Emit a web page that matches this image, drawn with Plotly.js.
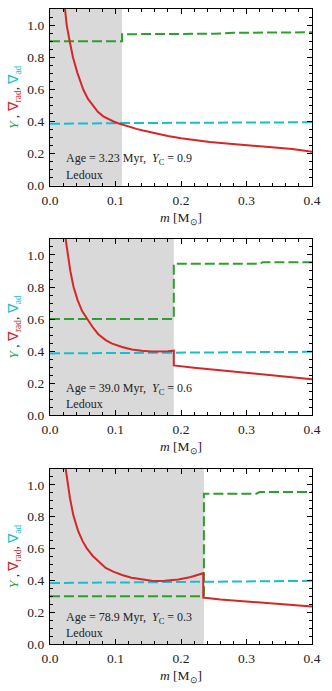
<!DOCTYPE html>
<html><head><meta charset="utf-8">
<script src="https://cdn.plot.ly/plotly-3.0.1.min.js"></script>
<style>html,body{margin:0;padding:0;background:#fff}</style>
</head><body><div id="chart" style="width:332px;height:691px"></div>
<script>
// Panel labels
const ages = ['3.23', '39.0', '78.9'];
const yCore = ['0.9', '0.6', '0.3'];
const convBoundary = [0.11, 0.189, 0.235];

// Panel 1 (Yc = 0.9)
const mRad1 = [0.0229, 0.0255, 0.0295, 0.035, 0.0417, 0.0508, 0.058, 0.066, 0.073, 0.0813, 0.09, 0.097, 0.104, 0.112, 0.122, 0.132, 0.142, 0.16, 0.18, 0.2, 0.22, 0.244, 0.27, 0.295, 0.32, 0.346, 0.37, 0.4];
const rad1 = [1.1, 1.0, 0.912, 0.80, 0.704, 0.599, 0.54, 0.495, 0.46, 0.432, 0.413, 0.40, 0.389, 0.378, 0.366, 0.354, 0.344, 0.326, 0.31, 0.296, 0.284, 0.272, 0.263, 0.255, 0.247, 0.238, 0.229, 0.211];
const mY1 = [0, 0.11, 0.11, 0.25, 0.28, 0.4];
const Y1 = [0.9, 0.9, 0.943, 0.946, 0.952, 0.955];
const mAd1 = [0, 0.11, 0.4];
const ad1 = [0.385, 0.39, 0.395];

// Panel 2 (Yc = 0.6)
const mRad2 = [0.0239, 0.027, 0.031, 0.036, 0.042, 0.049, 0.056, 0.065, 0.0737, 0.085, 0.094, 0.11, 0.125, 0.14, 0.155, 0.17, 0.18, 0.189, 0.189, 0.22, 0.25, 0.285, 0.32, 0.36, 0.4];
const rad2 = [1.1, 1.0, 0.9, 0.8, 0.72, 0.65, 0.605, 0.55, 0.505, 0.468, 0.448, 0.425, 0.41, 0.401, 0.397, 0.397, 0.399, 0.402, 0.31, 0.295, 0.283, 0.266, 0.252, 0.238, 0.224];
const mY2 = [0, 0.189, 0.189, 0.32, 0.325, 0.4];
const Y2 = [0.6, 0.6, 0.945, 0.945, 0.955, 0.955];
const mAd2 = [0, 0.19, 0.4];
const ad2 = [0.385, 0.39, 0.395];

// Panel 3 (Yc = 0.3)
const mRad3 = [0.024, 0.027, 0.0305, 0.0356, 0.0432, 0.05, 0.056, 0.065, 0.0737, 0.085, 0.0966, 0.11, 0.1245, 0.14, 0.155, 0.165, 0.175, 0.196, 0.215, 0.234, 0.234, 0.26, 0.3, 0.35, 0.4];
const rad3 = [1.1, 1.0, 0.916, 0.81, 0.707, 0.645, 0.603, 0.555, 0.519, 0.478, 0.455, 0.434, 0.417, 0.405, 0.398, 0.396, 0.397, 0.405, 0.421, 0.445, 0.292, 0.28, 0.267, 0.252, 0.236];
const mY3 = [0, 0.235, 0.235, 0.315, 0.32, 0.4];
const Y3 = [0.3, 0.3, 0.945, 0.945, 0.955, 0.955];
const mAd3 = [0, 0.235, 0.4];
const ad3 = [0.383, 0.39, 0.397];

const GREEN = '#2ca02c', RED = '#d62728', CYAN = '#17becf';
const FONT = 'Liberation Serif';

const panels = [
  {mRad: mRad1, rad: rad1, mY: mY1, Y: Y1, mAd: mAd1, ad: ad1},
  {mRad: mRad2, rad: rad2, mY: mY2, Y: Y2, mAd: mAd2, ad: ad2},
  {mRad: mRad3, rad: rad3, mY: mY3, Y: Y3, mAd: mAd3, ad: ad3}
];

const traces = [];
panels.forEach((p, i) => {
  const xa = i === 0 ? 'x' : 'x' + (i + 1);
  const ya = i === 0 ? 'y' : 'y' + (i + 1);
  traces.push({x: p.mY, y: p.Y, xaxis: xa, yaxis: ya, mode: 'lines', line: {color: GREEN, width: 2, dash: '10px,4px'}, hoverinfo: 'skip'});
  traces.push({x: p.mAd, y: p.ad, xaxis: xa, yaxis: ya, mode: 'lines', line: {color: CYAN, width: 2, dash: '10px,4px'}, hoverinfo: 'skip'});
  traces.push({x: p.mRad, y: p.rad, xaxis: xa, yaxis: ya, mode: 'lines', line: {color: RED, width: 2}, hoverinfo: 'skip'});
});

const domains = [[0.7217, 1], [0.3606, 0.6378], [0, 0.2756]];
const ytitle = '<span style="color:' + GREEN + '"><i>Y</i></span> , <span style="color:' + RED + '">∇<sub>rad</sub></span>, <span style="color:' + CYAN + '">∇<sub>ad</sub></span>';

const layout = {
  width: 332, height: 691,
  margin: {l: 50, r: 20, t: 9, b: 47},
  paper_bgcolor: '#fff', plot_bgcolor: '#fff',
  showlegend: false,
  font: {family: FONT, size: 13, color: '#222'},
  shapes: [], annotations: []
};

for (let i = 0; i < 3; i++) {
  const sx = i === 0 ? '' : String(i + 1);
  const common = {
    showline: true, linecolor: '#000', linewidth: 1.2, mirror: 'allticks',
    ticks: 'inside', ticklen: 4.5, tickwidth: 1, tickcolor: '#000',
    showgrid: false, zeroline: false, tickformat: '.1f',
    tickfont: {family: FONT, size: 13.5, color: '#222'}
  };
  layout['xaxis' + sx] = Object.assign({}, common, {
    domain: [0, 1], anchor: 'y' + sx, range: [0, 0.4], dtick: 0.1, tick0: 0,
    ticklabelstandoff: 2,
    minor: {dtick: 0.02, ticklen: 2.5, tickwidth: 0.8, tickcolor: '#000', ticks: 'inside'},
    title: {text: '<i>m</i> [M<sub>⊙</sub>]', font: {family: FONT, size: 13.5, color: '#222'}, standoff: 5}
  });
  layout['yaxis' + sx] = Object.assign({}, common, {
    domain: domains[i], anchor: 'x' + sx, range: [0, 1.1], dtick: 0.2, tick0: 0,
    ticklabelstandoff: 2,
    minor: {dtick: 0.05, ticklen: 2.5, tickwidth: 0.8, tickcolor: '#000', ticks: 'inside'},
    title: {text: ytitle, font: {family: FONT, size: 13.5}, standoff: 5}
  });
  layout.shapes.push({
    type: 'rect', xref: 'x' + sx, yref: 'y' + sx + ' domain',
    x0: 0, x1: convBoundary[i], y0: 0, y1: 1,
    fillcolor: '#d9d9d9', line: {width: 0}, layer: 'below'
  });
  layout.annotations.push({
    xref: 'x' + sx + ' domain', yref: 'y' + sx + ' domain', x: 0.053, y: 0.15,
    xanchor: 'left', yanchor: 'middle', showarrow: false,
    text: 'Age = ' + ages[i] + ' Myr,  <i>Y</i><sub>C</sub> = ' + yCore[i],
    font: {family: FONT, size: 12, color: '#222'}
  });
  layout.annotations.push({
    xref: 'x' + sx + ' domain', yref: 'y' + sx + ' domain', x: 0.053, y: 0.06,
    xanchor: 'left', yanchor: 'middle', showarrow: false,
    text: 'Ledoux', font: {family: FONT, size: 12, color: '#222'}
  });
}

Plotly.newPlot('chart', traces, layout, {displayModeBar: false});
</script>
</body></html>
